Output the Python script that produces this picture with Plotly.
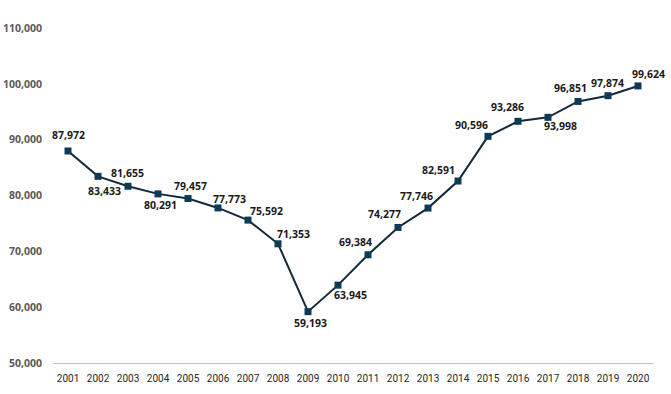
import plotly.graph_objects as go

years = list(range(2001, 2021))
values = [87972, 83433, 81655, 80291, 79457, 77773, 75592, 71353, 59193, 63945,
          69384, 74277, 77746, 82591, 90596, 93286, 93998, 96851, 97874, 99624]

# label offsets (pixels) relative to each marker: style only
label_dx = [0, 6, -1, 2, 2, 11, 18, 15, 2, 12, -13, -14, -12, -20, -17, -11, 12, -8, -1, 10]
label_dy = [-16, 15, -13, 11, -13, -9, -9, -10, 11, 10, -13, -13, -12, -11, -11, -14, 9, -13, -13, -12]

y_ticks = [50000, 60000, 70000, 80000, 90000, 100000, 110000]

fig = go.Figure()
fig.add_trace(go.Scatter(
    x=years, y=values, mode="lines+markers",
    line=dict(color="#13293a", width=2),
    marker=dict(symbol="square", size=7, color="#0d3b55"),
    hoverinfo="x+y", cliponaxis=False,
))

for x, v, dx, dy in zip(years, values, label_dx, label_dy):
    fig.add_annotation(
        x=x, y=v, text=f"{v:,}", showarrow=False,
        xshift=dx, yshift=-dy,
        font=dict(family="Open Sans", size=10.5, color="#1a1a1a", weight="bold"),
    )

fig.update_layout(
    width=671, height=394,
    margin=dict(l=53, r=18, t=28, b=31, autoexpand=False),
    paper_bgcolor="white", plot_bgcolor="white",
    showlegend=False,
    xaxis=dict(
        range=[min(years) - 0.5, max(years) + 0.5], tickmode="array", tickvals=years,
        ticktext=[str(y) for y in years], automargin=False,
        showgrid=False, showline=True, linecolor="#c0c0c0", linewidth=1, zeroline=False,
        ticks="", tickfont=dict(family="Liberation Sans Narrow, Roboto", size=10, color="#262626"),
        ticklabelstandoff=6,
    ),
    yaxis=dict(
        range=[50000, 110000], tickvals=y_ticks, automargin=False,
        ticktext=[f"{t:,}" for t in y_ticks],
        showgrid=False, showline=False, zeroline=False, ticks="",
        tickfont=dict(family="Open Sans", size=10.5, color="#595959", weight="bold"),
        ticklabelstandoff=10,
    ),
)

fig.write_html("out.html", config={"displayModeBar": False},
               post_script="document.body.style.margin='0';")
